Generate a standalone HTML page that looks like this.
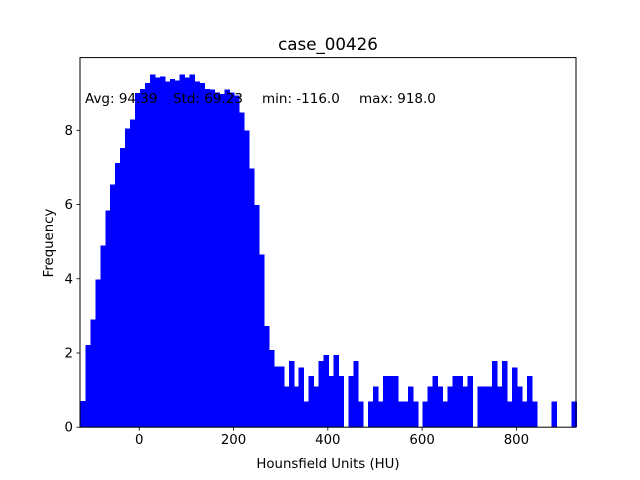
<!DOCTYPE html>
<html><head><meta charset="utf-8"><style>
html,body{margin:0;padding:0;background:#fff;}
svg{display:block;font-family:"DejaVu Sans","Liberation Sans",sans-serif;}
</style></head><body>
<svg id="chart" width="640" height="480" viewBox="0 0 640 480">
<rect x="0" y="0" width="640" height="480" fill="#fff"/>
<g id="bars" shape-rendering="crispEdges"></g>
<g id="axes"></g>
<text x="328" y="50" font-size="16.7" text-anchor="middle">case_00426</text>
<text x="328" y="468" font-size="13.3" text-anchor="middle">Hounsfield Units (HU)</text>
<text x="0" y="0" font-size="13.3" text-anchor="middle" transform="translate(53,243) rotate(-90)">Frequency</text>
<g font-size="13.5">
<text x="85" y="103">Avg: 94.39</text>
<text x="173" y="103">Std: 69.23</text>
<text x="262" y="103">min: -116.0</text>
<text x="359" y="103">max: 918.0</text>
</g>
</svg>
<script>
const binStart = -124.6;
const binWidth = 10.52;
const values = [0.71,2.22,2.90,3.98,4.89,5.84,6.54,7.12,7.53,8.05,
8.29,9.0,9.12,9.27,9.50,9.43,9.45,9.32,9.38,9.34,
9.50,9.43,9.50,9.31,9.28,9.12,9.10,9.02,8.98,9.10,
9.02,8.94,8.48,8.00,6.97,5.99,4.65,2.73,2.08,1.63,
1.63,1.10,1.78,1.10,1.61,0.69,1.38,1.10,1.78,1.95,
1.38,1.95,1.38,0,1.38,1.78,0.69,0,0.69,1.10,
0.69,1.38,1.38,1.38,0.69,0.69,1.10,0.69,0,0.69,
1.10,1.38,1.10,0.69,1.10,1.38,1.38,1.10,1.38,0,
1.10,1.10,1.10,1.78,1.10,1.78,0.69,1.61,1.10,0.69,
1.38,0.69,0,0,0,0.69,0,0,0,0.69];
const xTicks = [0,200,400,600,800];
const yTicks = [0,2,4,6,8];
const xMin = -125.6, xMax = 926.4, yMin = 0, yMax = 9.96;
const L=80,R=576,T=57.6,B=427.2;
const NS="http://www.w3.org/2000/svg";
function sx(v){return L+(v-xMin)/(xMax-xMin)*(R-L);}
function sy(v){return B-(v-yMin)/(yMax-yMin)*(B-T);}
function mk(tag,attrs,parent){const e=document.createElementNS(NS,tag);for(const k in attrs)e.setAttribute(k,attrs[k]);parent.appendChild(e);return e;}
const bars=document.getElementById('bars');
values.forEach((v,i)=>{
  if(v<=0)return;
  const x0=sx(binStart+i*binWidth), x1=sx(binStart+(i+1)*binWidth);
  const r=mk('rect',{x:x0,y:sy(v),width:x1-x0+0.5,height:sy(0)-sy(v),fill:'#0000ff'},bars);
  
  
});
const ax=document.getElementById('axes');
const frame=mk('rect',{x:L,y:T,width:R-L,height:B-T,fill:'none',stroke:'#000','stroke-width':1},ax);


xTicks.forEach(t=>{
  const x=sx(t);
  const l=mk('line',{x1:x,x2:x,y1:B,y2:B+3.5,stroke:'#000','stroke-width':0.8},ax);
  
  
  const tx=mk('text',{x:x,y:B+17,'font-size':'13.3','text-anchor':'middle'},ax);
  tx.textContent=t;
  
  
});
yTicks.forEach(t=>{
  const y=sy(t);
  const l=mk('line',{x1:L-3.5,x2:L,y1:y,y2:y,stroke:'#000','stroke-width':0.8},ax);
  
  
  const tx=mk('text',{x:L-7,y:y+4.5,'font-size':'13.3','text-anchor':'end'},ax);
  tx.textContent=t;
  
  
});
</script>
</body></html>
